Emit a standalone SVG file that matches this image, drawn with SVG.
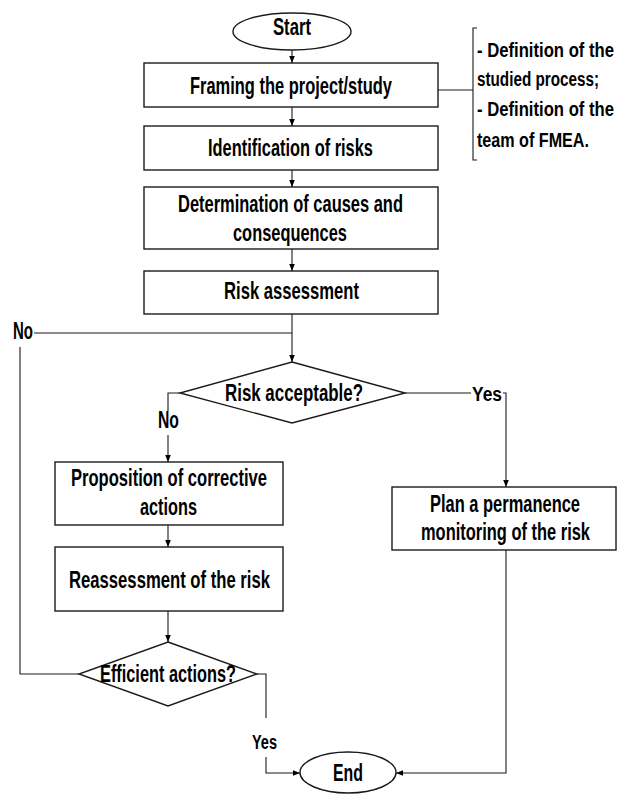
<svg xmlns="http://www.w3.org/2000/svg" width="617" height="794" viewBox="0 0 617 794">
<defs>
<style>
.t{font-family:"Liberation Sans",Arial,sans-serif;font-weight:bold;font-size:23px;fill:#000}
.c{text-anchor:middle}
.s{font-size:21px}
.y{font-size:20px}
.box{fill:#fff;stroke:#1a1a1a;stroke-width:1.4}
.ln{fill:none;stroke:#1a1a1a;stroke-width:1.1}
</style>
<marker id="ah" viewBox="0 0 10 10" refX="10" refY="5" markerWidth="7" markerHeight="7" markerUnits="userSpaceOnUse" orient="auto">
<path d="M0,1 L10,5 L0,9 Z" fill="#000"/>
</marker>
</defs>
<rect width="617" height="794" fill="#fff"/>
<g id="connectors">
<line class="ln" x1="292" y1="50" x2="292" y2="63" marker-end="url(#ah)"/>
<line class="ln" x1="292" y1="107" x2="292" y2="126" marker-end="url(#ah)"/>
<line class="ln" x1="292" y1="170" x2="292" y2="187" marker-end="url(#ah)"/>
<line class="ln" x1="292" y1="249" x2="292" y2="271" marker-end="url(#ah)"/>
<line class="ln" x1="292" y1="314" x2="292" y2="362" marker-end="url(#ah)"/>
<line class="ln" x1="34" y1="333" x2="292" y2="333"/>
<polyline class="ln" points="20,347 20,674 79,674"/>
<polyline class="ln" points="180,393 168,393 168,411"/>
<line class="ln" x1="168" y1="435" x2="168" y2="462" marker-end="url(#ah)"/>
<line class="ln" x1="405" y1="393" x2="471" y2="393"/>
<polyline class="ln" points="503,393 506,393 506,487" marker-end="url(#ah)"/>
<line class="ln" x1="168" y1="525" x2="168" y2="547" marker-end="url(#ah)"/>
<line class="ln" x1="168" y1="611" x2="168" y2="642" marker-end="url(#ah)"/>
<polyline class="ln" points="257,674 266,674 266,718"/>
<polyline class="ln" points="266,757 266,773 300,773" marker-end="url(#ah)"/>
<polyline class="ln" points="506,550 506,773 396,773" marker-end="url(#ah)"/>
<line class="ln" x1="438" y1="90" x2="473" y2="90"/>
<path class="ln" d="M477,28 H473 V160 H477"/>
</g>
<g id="start">
<ellipse class="box" cx="292" cy="31.5" rx="59" ry="18.5"/>
<text class="t c" transform="scale(0.8,1)" x="365" y="35" textLength="47.5" lengthAdjust="spacingAndGlyphs">Start</text>
</g>
<g id="framing">
<rect class="box" x="144" y="63" width="294" height="44"/>
<text class="t c" transform="scale(0.8,1)" x="363.75" y="94" textLength="252.5" lengthAdjust="spacingAndGlyphs">Framing the project/study</text>
</g>
<g id="note">
<text class="t s" transform="scale(0.8,1)" x="596.25" y="57" textLength="171.25" lengthAdjust="spacingAndGlyphs">- Definition of the</text>
<text class="t s" transform="scale(0.8,1)" x="596.25" y="86" textLength="152.5" lengthAdjust="spacingAndGlyphs">studied process;</text>
<text class="t s" transform="scale(0.8,1)" x="596.25" y="116" textLength="171.25" lengthAdjust="spacingAndGlyphs">- Definition of the</text>
<text class="t s" transform="scale(0.8,1)" x="596.25" y="147" textLength="140" lengthAdjust="spacingAndGlyphs">team of FMEA.</text>
</g>
<g id="identification">
<rect class="box" x="144" y="126" width="294" height="44"/>
<text class="t c" transform="scale(0.8,1)" x="363.125" y="156" textLength="206.25" lengthAdjust="spacingAndGlyphs">Identification of risks</text>
</g>
<g id="determination">
<rect class="box" x="144" y="187" width="294" height="62"/>
<text class="t c" transform="scale(0.8,1)" x="363.125" y="212" textLength="281.25" lengthAdjust="spacingAndGlyphs">Determination of causes and</text>
<text class="t c" transform="scale(0.8,1)" x="362.5" y="241" textLength="142.5" lengthAdjust="spacingAndGlyphs">consequences</text>
</g>
<g id="assessment">
<rect class="box" x="144" y="271" width="294" height="43"/>
<text class="t c" transform="scale(0.8,1)" x="364.375" y="299" textLength="168.75" lengthAdjust="spacingAndGlyphs">Risk assessment</text>
</g>
<g id="label-no-top">
<text class="t" transform="scale(0.8,1)" x="16.25" y="339" textLength="25" lengthAdjust="spacingAndGlyphs">No</text>
</g>
<g id="acceptable">
<polygon class="box" points="292,362 405,393 292,423 180,393"/>
<text class="t c" transform="scale(0.8,1)" x="367.5" y="401" textLength="172.5" lengthAdjust="spacingAndGlyphs">Risk acceptable?</text>
</g>
<g id="label-no">
<text class="t" transform="scale(0.8,1)" x="197.5" y="428" textLength="26.25" lengthAdjust="spacingAndGlyphs">No</text>
</g>
<g id="label-yes">
<text class="t y" transform="scale(0.8,1)" x="590" y="401" textLength="37.5" lengthAdjust="spacingAndGlyphs">Yes</text>
</g>
<g id="proposition">
<rect class="box" x="55" y="462" width="228" height="63"/>
<text class="t c" transform="scale(0.8,1)" x="211.25" y="486" textLength="245" lengthAdjust="spacingAndGlyphs">Proposition of corrective</text>
<text class="t c" transform="scale(0.8,1)" x="210.625" y="515" textLength="71.25" lengthAdjust="spacingAndGlyphs">actions</text>
</g>
<g id="plan">
<rect class="box" x="392" y="487" width="224" height="63"/>
<text class="t c" transform="scale(0.8,1)" x="631.25" y="512" textLength="187.5" lengthAdjust="spacingAndGlyphs">Plan a permanence</text>
<text class="t c" transform="scale(0.8,1)" x="631.875" y="540" textLength="211.25" lengthAdjust="spacingAndGlyphs">monitoring of the risk</text>
</g>
<g id="reassessment">
<rect class="box" x="55" y="547" width="228" height="64"/>
<text class="t c" transform="scale(0.8,1)" x="211.875" y="588" textLength="251.25" lengthAdjust="spacingAndGlyphs">Reassessment of the risk</text>
</g>
<g id="efficient">
<polygon class="box" points="168,642 257,674 168,706 79,674"/>
<text class="t c" transform="scale(0.8,1)" x="210" y="682" textLength="170" lengthAdjust="spacingAndGlyphs">Efficient actions?</text>
</g>
<g id="label-yes2">
<text class="t y" transform="scale(0.8,1)" x="315" y="749" textLength="31.25" lengthAdjust="spacingAndGlyphs">Yes</text>
</g>
<g id="end">
<ellipse class="box" cx="348" cy="772.5" rx="48" ry="20.5"/>
<text class="t c" transform="scale(0.8,1)" x="435" y="781" textLength="37.5" lengthAdjust="spacingAndGlyphs">End</text>
</g>
</svg>
